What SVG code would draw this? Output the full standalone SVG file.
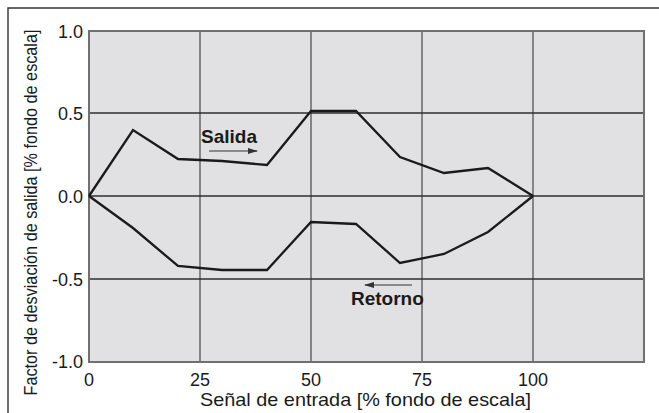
<svg xmlns="http://www.w3.org/2000/svg" width="659" height="413" viewBox="0 0 659 413">
<defs>
<style>
.tick{font-family:"Liberation Sans",Arial,sans-serif;font-size:18px;fill:#1a1a1a}
.title{font-family:"Liberation Sans",Arial,sans-serif;font-size:19px;fill:#1a1a1a}
.ytitle{font-family:"Liberation Sans",Arial,sans-serif;font-size:18px;fill:#1a1a1a}
.lbl{font-family:"Liberation Sans",Arial,sans-serif;font-size:19px;font-weight:bold;fill:#1a1a1a}
.hg{stroke:#2e2e2e;stroke-width:1.4}
.vg{stroke:#666;stroke-width:1.5}
.curve{fill:none;stroke:#1a1a1a;stroke-width:2.3;stroke-linejoin:miter}
.arr{stroke:#333;stroke-width:1.2;marker-end:url(#ah)}
</style>
<marker id="ah" viewBox="0 0 10 6" refX="9" refY="3" markerWidth="10" markerHeight="6" markerUnits="userSpaceOnUse" orient="auto">
<path d="M0,0 L10,3 L0,6 Z" fill="#333"/>
</marker>
</defs>
<rect width="659" height="413" fill="#fff"/>
<g id="frame">
<path d="M8,413 V8 H659" fill="none" stroke="#333" stroke-width="1.4"/>
</g>
<g id="plot">
<rect x="89" y="31" width="555" height="331" fill="#e1e1e3"/>
<line class="vg" x1="200" y1="31" x2="200" y2="362"/>
<line class="vg" x1="311" y1="31" x2="311" y2="362"/>
<line class="vg" x1="422" y1="31" x2="422" y2="362"/>
<line class="vg" x1="533" y1="31" x2="533" y2="362"/>
<line class="hg" x1="89" y1="113" x2="644" y2="113"/>
<line class="hg" x1="89" y1="196" x2="644" y2="196"/>
<line class="hg" x1="89" y1="279" x2="644" y2="279"/>
<rect x="89" y="31" width="555" height="331" fill="none" stroke="#707070" stroke-width="2"/>
</g>
<g id="axes-labels">
<text class="tick" x="83" y="38" text-anchor="end">1.0</text>
<text class="tick" x="83" y="120" text-anchor="end">0.5</text>
<text class="tick" x="83" y="203" text-anchor="end">0.0</text>
<text class="tick" x="83" y="286" text-anchor="end">-0.5</text>
<text class="tick" x="83" y="368" text-anchor="end">-1.0</text>
<text class="tick" x="89" y="386" text-anchor="middle">0</text>
<text class="tick" x="200" y="386" text-anchor="middle">25</text>
<text class="tick" x="311" y="386" text-anchor="middle">50</text>
<text class="tick" x="422" y="386" text-anchor="middle">75</text>
<text class="tick" x="533" y="386" text-anchor="middle">100</text>
<text class="title" x="200" y="406" textLength="331" lengthAdjust="spacingAndGlyphs">Señal de entrada [% fondo de escala]</text>
<text class="ytitle" transform="translate(37,212.5) rotate(-90)" x="0" y="0" text-anchor="middle" textLength="366" lengthAdjust="spacingAndGlyphs">Factor de desviación de salida [% fondo de escala]</text>
</g>
<g id="connectors">
<polyline id="salida-curve" class="curve" points="89,196 133,130 178,159 222,161 267,165 311,111 356,111 400,157 444,173 488,168 533,196"/>
<polyline id="retorno-curve" class="curve" points="89,196 133,228 178,266 222,270 267,270 311,222 356,224 400,263 444,254 488,232 533,196"/>
<line class="arr" x1="209" y1="151" x2="257" y2="151"/>
<line class="arr" x1="412" y1="285" x2="365" y2="285"/>
</g>
<g id="salida-label">
<text class="lbl" x="201" y="143">Salida</text>
</g>
<g id="retorno-label">
<text class="lbl" x="351" y="305">Retorno</text>
</g>
</svg>
